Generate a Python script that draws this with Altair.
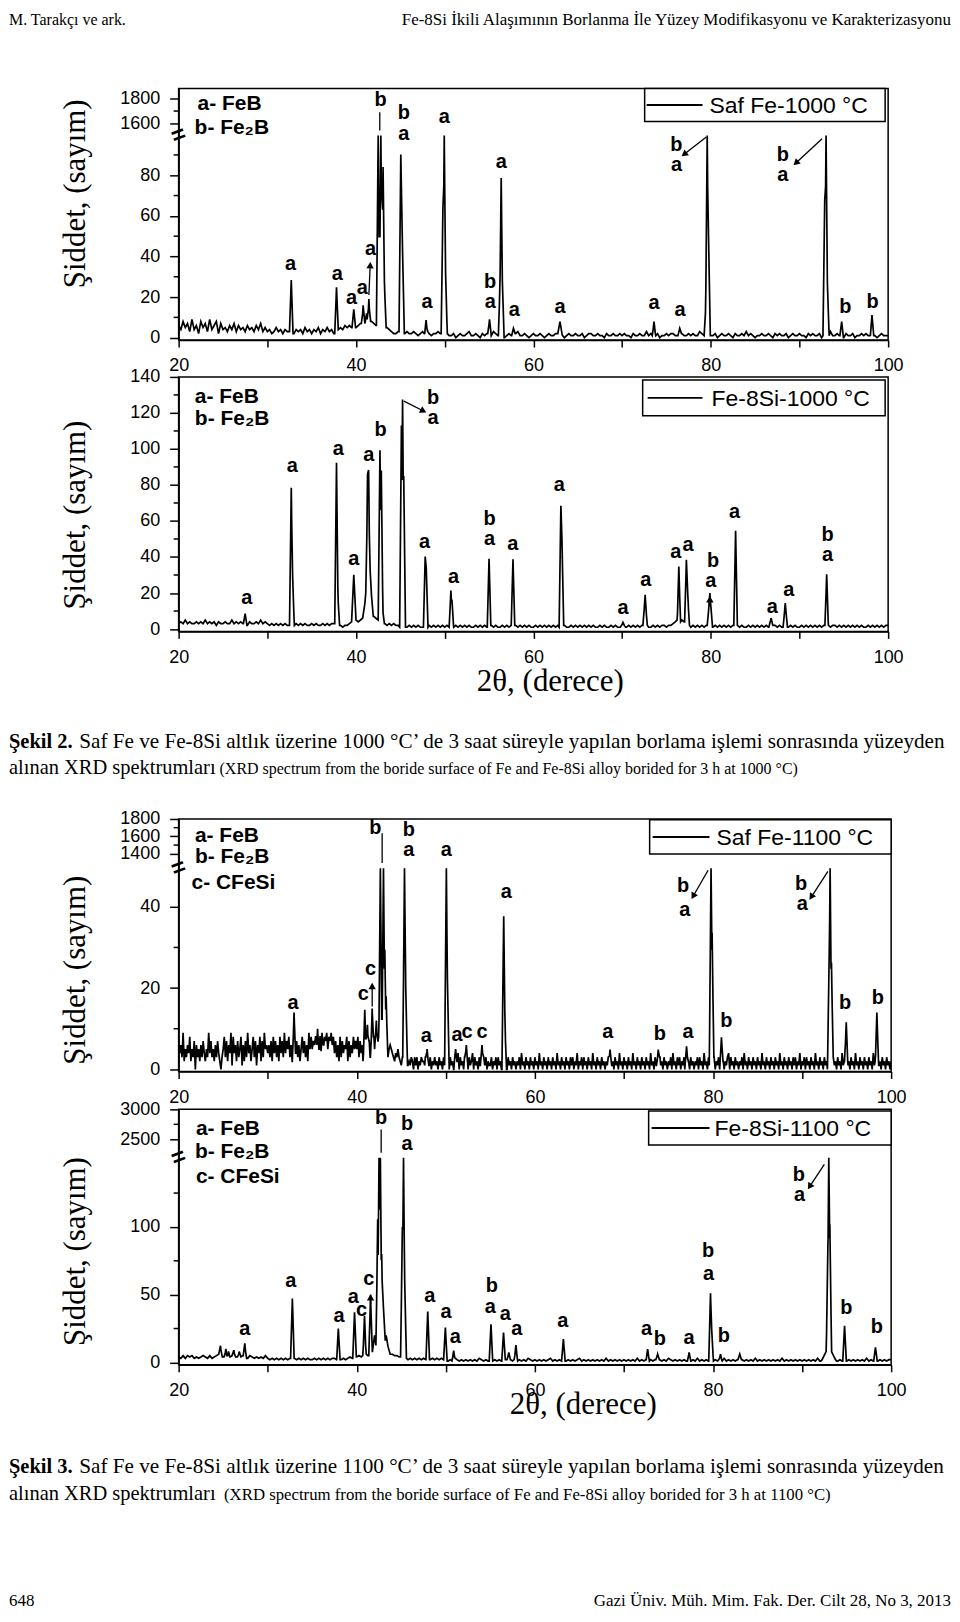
import math
import pandas as pd
import altair as alt

SANS = "Liberation Sans"
SERIF = "Liberation Serif"

# ---------------- page texts ----------------
header_left = "M. Tarakçı ve ark."
header_right = "Fe-8Si İkili Alaşımının Borlanma İle Yüzey Modifikasyonu ve Karakterizasyonu"
cap2_bold = "Şekil 2."
cap2_line1 = "Saf Fe ve Fe-8Si altlık üzerine 1000 °C’ de 3 saat süreyle yapılan borlama işlemi sonrasında yüzeyden"
cap2_line2a = "alınan XRD spektrumları"
cap2_line2b = "(XRD spectrum from the boride surface of Fe and Fe-8Si alloy borided for 3 h at 1000 °C)"
cap3_bold = "Şekil 3."
cap3_line1 = "Saf Fe ve Fe-8Si altlık üzerine 1100 °C’ de 3 saat süreyle yapılan borlama işlemi sonrasında yüzeyden"
cap3_line2a = "alınan XRD spektrumları"
cap3_line2b = "(XRD spectrum from the boride surface of Fe and Fe-8Si alloy borided for 3 h at 1100 °C)"
footer_left = "648"
footer_right = "Gazi Üniv. Müh. Mim. Fak. Der. Cilt 28, No 3, 2013"

y_title = "Şiddet, (sayım)"
x_title = "2θ, (derece)"
X_TICKS = [20, 30, 40, 50, 60, 70, 80, 90, 100]

# ---------------- Panel 1: Saf Fe-1000 °C ----------------
p1_name = "Saf Fe-1000 °C"
p1_step = 0.25
p1_base = ("6485739462 8573946827 4536473645 3645364735 "
           "3423534243 3524342534 2435243534 2345465657 "
           "5676767876 9876543223 2323223212 3232122321 "
           "1211201211 2311210212 1132112012 1123112101 "
           "2112101211 2211012112 1120122112 1102112112 "
           "1211021121 1312112011 2122110211 2121132111 "
           "1120121121 0211213121 0112112102 1211201211 "
           "2110212112 0121311211 0211201121 2112101211 1")
p1_peaks = [(32.7, 28.4), (37.8, 24.8), (39.75, 14), (40.8, 16), (41.2, 12), (41.45, 19),
            (42.5, 99.6), (42.8, 99.6), (43.05, 84), (43.2, 28), (45.05, 90.2), (45.25, 42),
            (47.9, 8.7), (49.8, 64), (49.95, 99.6), (50.1, 32), (55.05, 9), (56.25, 28),
            (56.37, 78.6), (56.5, 28), (57.75, 4.6), (73.6, 7.9), (76.5, 4.6), (79.45, 16),
            (79.6, 99.6), (79.75, 49.6), (92.85, 67.7), (93.0, 99.6), (93.15, 27),
            (94.76, 7.9), (98.18, 11.2)]
p1_broad = [(63.0, 7.9, 0.3)]
p1_labels = [("a", 32.63, 36.5), ("a", 37.88, 31.6), ("a", 39.5, 19.4), ("a", 40.7, 24.3),
             ("a", 41.63, 43.9), ("b", 42.76, 116.8), ("b", 45.4, 110.4), ("a", 45.4, 100.4),
             ("a", 48.0, 17.7), ("a", 49.96, 108.6), ("b", 55.13, 27.5), ("a", 55.13, 17.7),
             ("a", 56.37, 86.5), ("a", 57.85, 13.6), ("a", 63.0, 15.2), ("a", 73.6, 17.2),
             ("a", 76.55, 13.6), ("b", 76.13, 94.7), ("a", 76.13, 84.9), ("b", 88.12, 89.8),
             ("a", 88.12, 80.0), ("b", 95.17, 15.2), ("b", 98.25, 17.7)]
p1_keys = [("a- FeB", 22.14, 114.9), ("b- Fe₂B", 21.8, 103.5)]
p1_arrows = [(41.45, 21, 41.6, 35.7, 1), (42.68, 111, 42.68, 102, 0),
             (79.5, 98.8, 77.0, 90.3, 1), (92.55, 98, 89.6, 86, 1)]

# ---------------- Panel 2: Fe-8Si-1000 °C ----------------
p2_name = "Fe-8Si-1000 °C"
p2_step = 0.25
p2_base = ("3435343343 4353434243 3433534343 4243343534 "
           "3232323232 2323232322 3232232323 3332122345 "
           "5456789876 5433232322 1211212121 1212121212 "
           "1212121212 1211212121 1212112121 2121212121 "
           "1212121212 1211211212 1212121211 2121121211 "
           "1212121212 1211212122 1223454543 2121212121 "
           "2121212121 2121211212 1212121222 1211212121 "
           "1212121212 1212122121 2121212121 1212121212 2")
p2_peaks = [(27.5, 8.5), (32.7, 78.5), (32.85, 30), (37.8, 92.3), (37.95, 19), (41.3, 86),
            (41.42, 88.3), (42.7, 99.3), (42.85, 88), (43.0, 12), (45.12, 113), (45.25, 127.4),
            (45.38, 85), (47.8, 40.2), (47.92, 34), (50.7, 21.4), (50.82, 16), (55.0, 39),
            (57.7, 38.8), (63.1, 68.5), (63.22, 50), (76.4, 34.7), (77.25, 38.4), (77.4, 20),
            (82.8, 54.6), (93.07, 30.4)]
p2_broad = [(39.75, 30.1, 0.25), (41.1, 20, 0.35), (41.6, 32, 0.35), (70.1, 3.7, 0.3),
            (72.6, 19, 0.25), (79.9, 20, 0.3), (86.8, 6.1, 0.25), (88.4, 14.4, 0.25)]
p2_labels = [("a", 27.68, 17.2), ("a", 32.82, 90.5), ("a", 38.0, 99.7), ("a", 39.75, 38.8),
             ("a", 41.44, 96.9), ("b", 42.76, 110.4), ("b", 48.7, 128.5), ("a", 48.7, 117.4),
             ("a", 47.74, 48.5), ("a", 51.0, 28.8), ("b", 55.05, 60.9), ("a", 55.05, 50.0),
             ("a", 57.68, 47.3), ("a", 62.93, 79.9), ("a", 70.1, 11.6), ("a", 72.68, 27.3),
             ("a", 76.05, 43.0), ("a", 77.44, 46.7), ("b", 80.25, 38.0), ("a", 79.99, 26.9),
             ("a", 82.69, 65.2), ("a", 86.93, 12.5), ("a", 88.8, 21.8), ("b", 93.18, 52.2),
             ("a", 93.18, 41.2)]
p2_keys = [("a- FeB", 21.83, 128.9), ("b- Fe₂B", 21.83, 116.5)]
p2_arrows = [(45.4, 126.6, 47.6, 121.1, 1), (79.9, 12.5, 79.9, 16.5, 1)]

# ---------------- Panel 3: Saf Fe-1100 °C ----------------
p3_name = "Saf Fe-1100 °C"
p3_step = 0.125
p3_base = ("7463925364 8253706352 6374253947 3526374203 5837264918 4627358162 7394625837 1648273956 "
           "4637284736 2847394758 3625847362 5847362958 5768675847 6879587968 4736283746 5827364857 "
           "5837462958 4736285947 8765432435 6543243532 1312031213 2031302132 2130213021 3120312031 "
           "2130312031 2403120312 0312403120 3120313021 1302130312 0213403120 3120213041 2031203120 "
           "3120412031 2031203120 4120312031 2031302140 2130312031 2041203120 3120213031 2031204120 "
           "3120312041 2031203120 3120412031 2031203120 2130412031 3021304120 3120213031 2041203120 "
           "1302130312 0213403120 3120213041 2031203120 3120412031 2031203120 4120312031 2031302140 "
           "2130312031 2041203120 3120213031 2031204120 3120312041 2031203120 3120412031 2031203120 2")
p3_peaks = [(32.96, 14), (35.6, 10), (36.1, 9), (40.9, 14.7), (41.2, 11), (41.73, 15),
            (42.2, 12), (42.65, 49.5), (43.0, 49.5), (43.15, 29.5), (43.3, 18), (45.36, 49.5),
            (45.5, 20), (47.9, 5), (50.06, 49.5), (50.18, 22), (51.1, 5), (52.3, 6), (54.06, 6),
            (56.5, 37.7), (56.62, 11.6), (68.44, 4.9), (73.85, 4.9), (77.03, 5.7),
            (79.78, 49.5), (79.9, 33.6), (80.95, 7.9), (93.05, 28.7), (93.15, 49.5),
            (93.3, 26.3), (94.96, 11.6), (98.4, 14)]
p3_broad = []
p3_labels = [("a", 32.84, 16.3), ("c", 40.73, 18.5), ("c", 41.55, 24.8), ("b", 42.1, 59.3),
             ("b", 45.84, 58.8), ("a", 45.84, 54.0), ("a", 47.82, 8.2), ("a", 50.06, 54.0),
             ("a", 51.26, 8.4), ("c", 52.38, 9.1), ("c", 54.06, 9.3), ("a", 56.78, 43.6),
             ("a", 68.18, 9.1), ("b", 74.04, 8.7), ("a", 77.21, 9.1), ("b", 76.65, 45.2),
             ("a", 76.84, 39.3), ("b", 81.5, 11.8), ("b", 89.9, 45.5), ("a", 90.03, 40.6),
             ("b", 94.84, 16.3), ("b", 98.5, 17.5)]
p3_keys = [("a- FeB", 21.83, 57.3), ("b- Fe₂B", 21.83, 52.2), ("c- CFeSi", 21.45, 45.8)]
p3_arrows = [(41.73, 15.5, 41.73, 20.5, 1), (42.85, 58.1, 42.85, 50.8, 0),
             (79.45, 49, 77.77, 42.6, 1), (92.9, 48.7, 91.03, 42.4, 1)]

# ---------------- Panel 4: Fe-8Si-1100 °C ----------------
p4_name = "Fe-8Si-1100 °C"
p4_step = 0.25
p4_base = ("4353545343 4543534565 4654564545 4354343435 "
           "3232323232 3232323232 2323232323 3232323434 "
           "4545656789 9987766554 4332323232 3232323232 "
           "2121321212 1212132121 2121213212 1212121321 "
           "2121212312 1212121212 3121212121 2131212121 "
           "2121213121 2121212121 3212121212 1213121212 "
           "1212131212 1212121213 1212121212 1312121212 "
           "1212121312 1213121212 1212121213 1212121212 2")
p4_peaks = [(24.7, 12.3), (25.3, 10), (25.6, 8), (26.2, 9), (26.8, 8), (27.43, 14),
            (32.77, 47.2), (37.93, 25), (39.75, 36.9), (40.87, 34.4), (41.55, 50),
            (42.35, 105.7), (42.5, 151), (42.65, 151), (42.8, 80), (43.0, 40), (45.12, 100),
            (45.25, 151), (45.38, 61.4), (47.97, 37.6), (49.95, 25.8), (50.88, 8.6),
            (55.07, 28.2), (56.48, 22.1), (57.07, 7.4), (57.87, 12.8), (63.2, 17.2),
            (72.66, 9.8), (73.78, 6.1), (77.32, 7.4), (79.72, 51.1), (79.85, 24.6),
            (80.84, 6.1), (83.0, 6.1), (92.9, 86), (93.0, 151), (93.12, 102), (94.77, 27),
            (98.24, 11.1)]
p4_broad = [(42.0, 20, 0.4), (43.3, 20, 0.5), (93.0, 12, 0.9)]
p4_labels = [("a", 27.43, 24.6), ("a", 32.58, 60.2), ("a", 38.0, 34.4), ("a", 39.6, 48.5),
             ("c", 40.55, 38.8), ("c", 41.36, 61.4), ("b", 42.74, 180.7), ("b", 45.66, 175.7),
             ("a", 45.66, 161.0), ("a", 48.2, 49.1), ("a", 50.03, 36.9), ("a", 51.07, 18.4),
             ("b", 55.18, 56.5), ("a", 54.99, 40.6), ("a", 56.67, 35.6), ("a", 57.98, 24.6),
             ("a", 63.13, 30.7), ("a", 72.55, 25.0), ("b", 74.04, 17.2), ("a", 77.32, 17.7),
             ("b", 79.45, 82.3), ("a", 79.49, 65.1), ("b", 81.21, 19.2), ("b", 89.65, 138.1),
             ("a", 89.73, 123.4), ("b", 94.96, 39.8), ("b", 98.39, 25.8)]
p4_keys = [("a- FeB", 21.94, 172), ("b- Fe₂B", 21.83, 155.5), ("c- CFeSi", 21.94, 137)]
p4_arrows = [(41.55, 43, 41.55, 48, 1), (42.74, 172, 42.74, 154.8, 0),
             (92.5, 146.2, 90.85, 129.8, 1)]

# ---------------- y-axis (broken) definitions ----------------
p1_axis = dict(dom=[-1.13, 122.7], major=[0, 20, 40, 60, 80], minor=[10, 30, 50, 70, 90],
               up_major=[1600, 1800], up_minor=[1700], brk=99.6, r0=1600, v0=105.6, r1=1800, v1=117.6)
p2_axis = dict(dom=[-1.3, 140], major=[0, 20, 40, 60, 80, 100, 120, 140],
               minor=[10, 30, 50, 70, 90, 110, 130], up_major=[], up_minor=[], brk=None)
p3_axis = dict(dom=[-0.5, 61.6], major=[0, 20, 40], minor=[10, 30],
               up_major=[1400, 1600, 1800], up_minor=[1500, 1700], brk=49.5,
               r0=1400, v0=53.05, r1=1800, v1=61.6)
p4_axis = dict(dom=[-1.8, 186.8], major=[0, 50, 100], minor=[25, 75, 125],
               up_major=[2500, 3000], up_minor=[2750], brk=151, r0=2500, v0=164.7, r1=3000, v1=186.8)


def spectrum(base_str, step, peaks, broad):
    base = [int(c) for c in base_str.replace(" ", "")]
    allp = [(p, h, 0.2) for p, h in peaks] + list(broad)
    xs = set(round(20 + step * i, 4) for i in range(len(base)))
    for p, h, w in allp:
        for v in (p - w, p, p + w):
            if 20 <= v <= 100:
                xs.add(round(v, 4))
    rows = []
    for x in sorted(xs):
        i = min(len(base) - 1, max(0, int(round((x - 20) / step))))
        y = float(base[i])
        for p, h, w in allp:
            d = abs(x - p)
            if d < w:
                y = max(y, h * (1 - d / w))
        rows.append({"x": x, "y": y})
    return pd.DataFrame(rows)


def ptext(t, x, y, size, weight="normal", align="left", baseline="alphabetic", font=SERIF):
    return alt.Chart(pd.DataFrame({"t": [t]})).mark_text(
        font=font, fontSize=size, fontWeight=weight, align=align, baseline=baseline, color="black"
    ).encode(x=alt.value(x), y=alt.value(y), text="t:N")


def legend_box(name, box, line, tx, ty):
    one = pd.DataFrame({"t": [name]})
    rect = alt.Chart(one).mark_rect(fill="white", stroke="black", strokeWidth=1.5).encode(
        x=alt.value(box[0]), x2=alt.value(box[1]), y=alt.value(box[2]), y2=alt.value(box[3]))
    rule = alt.Chart(one).mark_rule(color="black", strokeWidth=2).encode(
        x=alt.value(line[0]), x2=alt.value(line[1]), y=alt.value(ty))
    text = alt.Chart(one).mark_text(font=SANS, fontSize=23, align="left", baseline="middle",
                                    color="black").encode(
        x=alt.value(tx), y=alt.value(ty + 1), text="t:N")
    return [rect, rule, text]


def panel(name, step, base, peaks, broad, labels, keys, arrows, ax, width, height,
          ytitle_y, leg, xtitle=None, texts=()):
    xs = alt.Scale(domain=[20, 100], nice=False, zero=False)
    ys = alt.Scale(domain=ax["dom"], nice=False, zero=False)
    xkw = dict(values=X_TICKS, labelExpr="datum.value % 20 == 0 ? datum.label : ''",
               tickSize=7, labelPadding=10, labelFlush=False, grid=False)
    if xtitle:
        xkw.update(title=x_title, titleX=xtitle[0], titleY=xtitle[1], titleFont=SERIF,
                   titleFontSize=31, titleFontWeight="normal", titleAlign="center",
                   titleBaseline="middle", titleColor="black")
    else:
        xkw.update(title=None)

    def v_of(r):
        return ax["v0"] + (r - ax["r0"]) * (ax["v1"] - ax["v0"]) / (ax["r1"] - ax["r0"])

    yvals = list(ax["major"]) + [v_of(r) for r in ax["up_major"]]
    ykw = dict(values=yvals, tickSize=9, labelPadding=10, labelFlush=False, grid=False,
               title=y_title, titleX=-103, titleY=ytitle_y, titleAngle=270, titleAlign="center",
               titleBaseline="middle", titleFont=SERIF, titleFontSize=31,
               titleFontWeight="normal", titleColor="black")
    if ax["brk"] is not None:
        k = (ax["r1"] - ax["r0"]) / (ax["v1"] - ax["v0"])
        ykw["labelExpr"] = (f"datum.value > {ax['brk']} ? format({ax['r0']} + (datum.value - {ax['v0']}) * {k}, '.0f')"
                            " : datum.label")

    def X(f):
        return alt.X(f + ":Q", scale=xs, axis=alt.Axis(**xkw))

    def Y(f):
        return alt.Y(f + ":Q", scale=ys, axis=alt.Axis(**ykw))

    spec = spectrum(base, step, peaks, broad)
    line = alt.Chart(spec).mark_line(strokeWidth=1.7, color="black", clip=True).encode(
        x=X("x"), y=Y("y"))
    lab = pd.DataFrame(labels, columns=["t", "x", "y"])
    lab_layer = alt.Chart(lab).mark_text(font=SANS, fontSize=20, fontWeight="bold", color="black",
                                         align="center", baseline="middle").encode(
        x=X("x"), y=Y("y"), text="t:N")
    key = pd.DataFrame(keys, columns=["t", "x", "y"])
    key_layer = alt.Chart(key).mark_text(font=SANS, fontSize=21, fontWeight="bold", color="black",
                                         align="left", baseline="middle").encode(
        x=X("x"), y=Y("y"), text="t:N")
    arr = pd.DataFrame(arrows, columns=["x1", "y1", "x2", "y2", "hd"])
    sx = width / 80.0
    sy = height / (ax["dom"][1] - ax["dom"][0])
    arr["ang"] = [math.degrees(math.atan2((r.x2 - r.x1) * sx, (r.y2 - r.y1) * sy)) % 360
                  for r in arr.itertuples()]
    rules = alt.Chart(arr).mark_rule(color="black", strokeWidth=1.3).encode(
        x=X("x1"), y=Y("y1"), x2="x2:Q", y2="y2:Q")
    heads = alt.Chart(arr[arr["hd"] == 1]).mark_point(
        shape="triangle-up", filled=True, size=55, color="black", opacity=1).encode(
        x=X("x2"), y=Y("y2"), angle=alt.Angle("ang:Q", scale=None))
    mins = pd.DataFrame({"v": list(ax["minor"]) + [v_of(r) for r in ax["up_minor"]]})
    minor = alt.Chart(mins).mark_rule(color="black", strokeWidth=1.5).encode(
        y=Y("v"), x=alt.value(-5), x2=alt.value(0))
    layers = [line, lab_layer, key_layer, rules, heads, minor]
    if ax["brk"] is not None:
        bdf = pd.DataFrame({"v": [ax["brk"]]})
        layers.append(alt.Chart(bdf).mark_text(text="=", font=SANS, fontSize=24, fontWeight="bold",
                                               angle=340, color="black").encode(
            x=alt.value(0), y=Y("v")))
    layers += legend_box(name, *leg)
    layers += list(texts)
    return alt.layer(*layers).properties(width=width, height=height)


def spacer(h):
    return alt.Chart(pd.DataFrame({"t": [""]})).mark_text().encode(
        text="t:N", x=alt.value(0), y=alt.value(0)
    ).properties(width=711, height=h, view=alt.ViewBackground(stroke="transparent"))


p1 = panel(p1_name, p1_step, p1_base, p1_peaks, p1_broad, p1_labels, p1_keys, p1_arrows, p1_axis,
           711, 252, 105, ((467, 708, 0, 33), (469, 525), 532, 16.5),
           texts=[ptext(header_left, -170, -77, 16, baseline="top"),
                  ptext(header_right, 774, -77, 17, align="right", baseline="top")])
p2 = panel(p2_name, p2_step, p2_base, p2_peaks, p2_broad, p2_labels, p2_keys, p2_arrows, p2_axis,
           711, 255, 138, ((465, 708, 3, 39), (470, 525), 534, 21), xtitle=(372, 50),
           texts=[ptext(cap2_bold, -170, 372, 20.5, weight="bold"),
                  ptext(cap2_line1, -99.5, 372, 21.2),
                  ptext(cap2_line2a, -170, 397.5, 20.5),
                  ptext(cap2_line2b, 41, 397.5, 16)])
p3 = panel(p3_name, p3_step, p3_base, p3_peaks, p3_broad, p3_labels, p3_keys, p3_arrows, p3_axis,
           714, 253, 151, ((472, 714, 0.7, 35), (475, 532), 539, 18))
p4 = panel(p4_name, p4_step, p4_base, p4_peaks, p4_broad, p4_labels, p4_keys, p4_arrows, p4_axis,
           714, 256, 142, ((471, 714, 1.7, 35.7), (474, 532), 537, 18.7), xtitle=(405, 40),
           texts=[ptext(cap3_bold, -170, 364, 20.5, weight="bold"),
                  ptext(cap3_line1, -99.5, 364, 21.2),
                  ptext(cap3_line2a, -170, 391, 20.5),
                  ptext(cap3_line2b, 45.5, 391, 16.8),
                  ptext(footer_left, -170, 498, 17),
                  ptext(footer_right, 774, 498, 17, align="right")])

chart = alt.vconcat(p1, spacer(37), p2, spacer(188), p3, spacer(38), p4,
                    spacing=0, bounds="flush")
chart = chart.resolve_scale(x="independent", y="independent")
chart = chart.configure_view(stroke="black", strokeWidth=1.5).configure_axis(
    labelFont=SANS, labelFontSize=18, labelColor="black", domainColor="black", domainWidth=1.5,
    tickColor="black", tickWidth=1.5, grid=False, labelOverlap=False
).properties(padding=0, background="white")

chart.save("out.html", embed_options={"renderer": "svg", "actions": False})
